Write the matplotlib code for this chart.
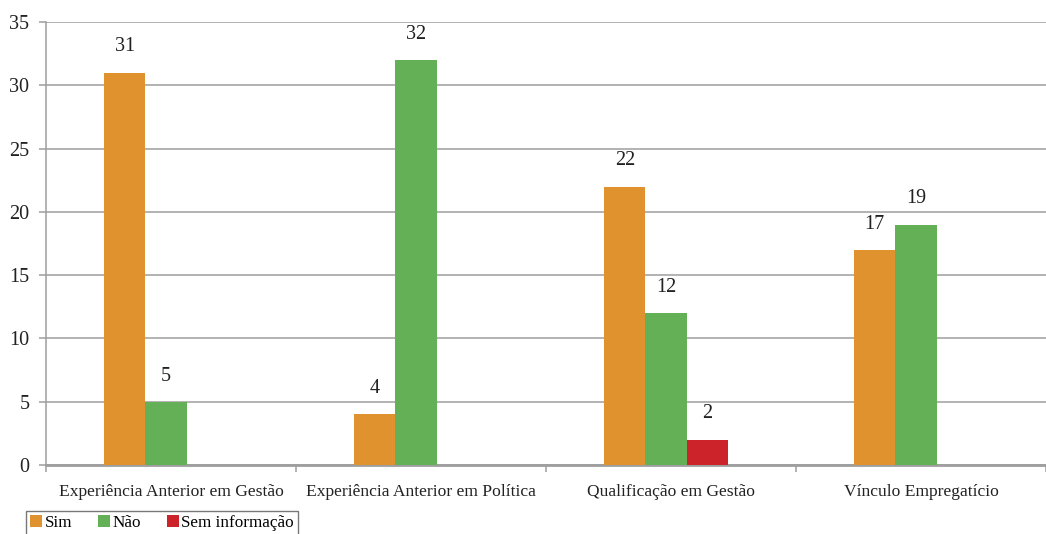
import matplotlib
matplotlib.use("Agg")
import matplotlib.pyplot as plt
import numpy as np
from matplotlib.patches import Patch

plt.rcParams['font.family'] = ['Liberation Serif', 'DejaVu Serif']

categories = ["Experiência Anterior em Gestão", "Experiência Anterior em Política",
              "Qualificação em Gestão", "Vínculo Empregatício"]
series_names = ["Sim", "Não", "Sem informação"]
sim = [31, 4, 22, 17]
nao = [5, 32, 12, 19]
sem_info = [0, 0, 2, 0]
colors = ["#E0922F", "#63B057", "#CC232B"]
yticks = [0, 5, 10, 15, 20, 25, 30, 35]

W, H = 1046, 534
fig = plt.figure(figsize=(W / 100, H / 100), dpi=100)
ax = fig.add_axes([46 / W, (H - 465) / H, 1 - 46 / W, (465 - 22) / H])

x = np.arange(len(categories))
bw = 0.165
grid_c = "#9E9E9E"
for i, (vals, col) in enumerate(zip([sim, nao, sem_info], colors)):
    pos = x + (i - 1) * bw - 0.02
    for p, v in zip(pos, vals):
        if v == 0:
            continue
        ax.bar(p, v, width=bw, color=col, zorder=3)
        ax.annotate(str(v), (p, v), xytext=(0, 18.5), textcoords="offset points",
                    ha="center", va="center", fontsize=14.5, color="#222222")

ax.set_ylim(0, 35)
ax.set_xlim(-0.5, -0.5 + (W - 46) / 252.4)
ax.set_yticks(yticks)
ax.yaxis.grid(True, color=grid_c, linewidth=1.1, zorder=0)
ax.set_axisbelow(True)
for s in ["top", "right"]:
    ax.spines[s].set_visible(False)
ax.spines["left"].set_color(grid_c)
ax.spines["bottom"].set_color(grid_c)
ax.spines["bottom"].set_linewidth(2)
ax.spines["left"].set_linewidth(1.1)
ax.tick_params(axis="y", length=5, width=1.1, color=grid_c, pad=7, labelsize=14.5, labelcolor="#222222")
ax.set_xticks(x)
ax.set_xticklabels(categories)
ax.tick_params(axis="x", which="major", length=0, pad=14, labelsize=12.6, labelcolor="#222222")
ax.set_xticks(np.arange(-0.5, 3.6, 1.0), minor=True)
ax.tick_params(axis="x", which="minor", length=5, width=1.1, color=grid_c)

handles = [Patch(facecolor=c, edgecolor="none") for c in colors]
leg = fig.legend(handles, series_names, loc="upper left",
                 bbox_to_anchor=(26 / W, 1 - 511 / H), ncol=3, fontsize=12.3,
                 handlelength=0.7, handleheight=0.7, handletextpad=0.15,
                 columnspacing=1.5, borderpad=0.25, fancybox=False,
                 edgecolor="#555555", borderaxespad=0)
leg.get_frame().set_linewidth(1.0)

fig.savefig("out.png", dpi=100)
